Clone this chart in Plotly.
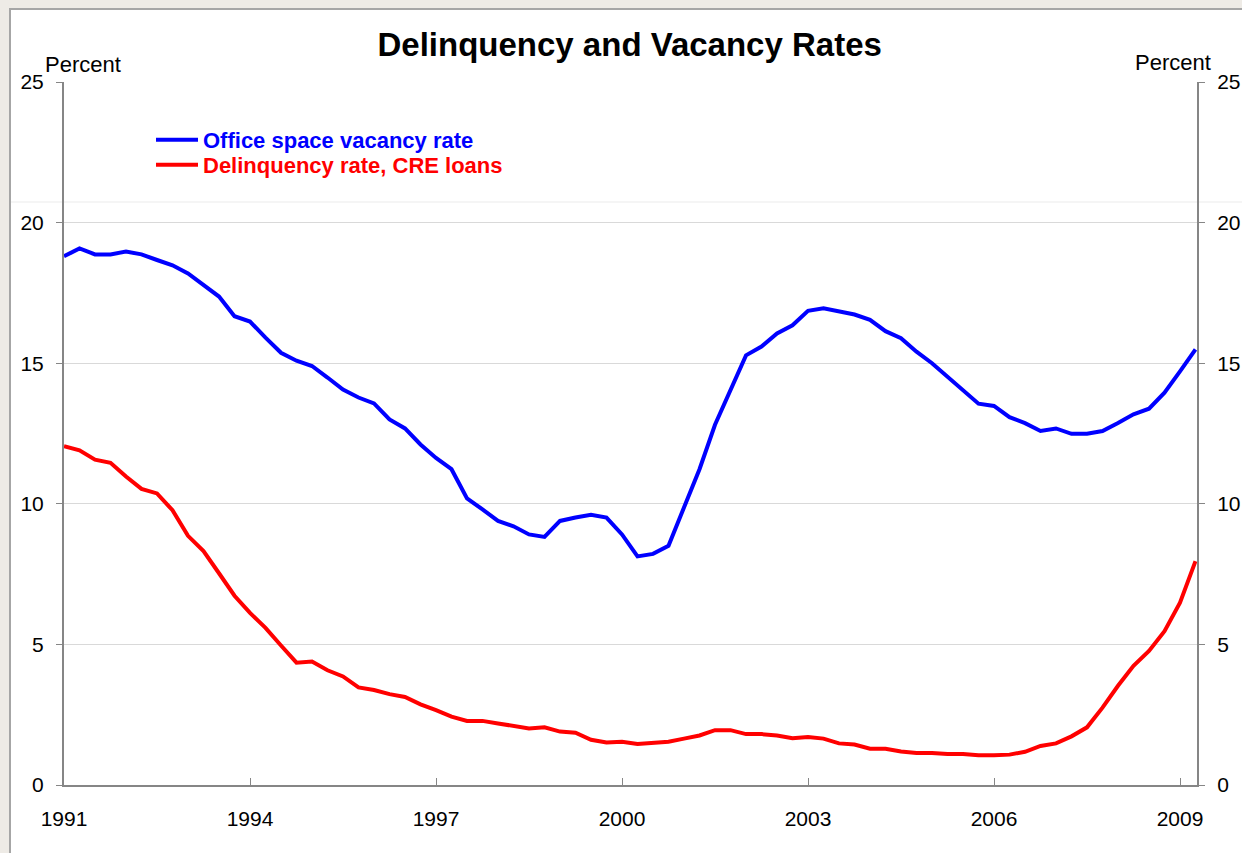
import plotly.graph_objects as go

start_year = 1991
n_quarters = 74  # 1991Q1 .. 2009Q2

office_vacancy = [
    18.80, 19.08, 18.87, 18.87, 18.97, 18.87, 18.67, 18.48, 18.19, 17.78, 17.37, 16.67,
    16.48, 15.91, 15.37, 15.09, 14.90, 14.49, 14.06, 13.78, 13.57, 13.00, 12.68, 12.11,
    11.63, 11.23, 10.19, 9.80, 9.39, 9.20, 8.91, 8.82, 9.39, 9.51, 9.61, 9.51,
    8.91, 8.13, 8.22, 8.51, 9.84, 11.23, 12.81, 14.08, 15.28, 15.59, 16.06, 16.35,
    16.86, 16.95, 16.85, 16.73, 16.54, 16.14, 15.89, 15.41, 15.00, 14.52, 14.05, 13.56,
    13.48, 13.08, 12.87, 12.59, 12.68, 12.49, 12.49, 12.59, 12.87, 13.18, 13.38, 13.95,
    14.71, 15.49,
]

cre_delinquency = [
    12.05, 11.90, 11.57, 11.46, 10.97, 10.53, 10.37, 9.77, 8.86, 8.32, 7.53, 6.73,
    6.12, 5.59, 4.96, 4.35, 4.39, 4.08, 3.86, 3.47, 3.38, 3.23, 3.13, 2.87,
    2.66, 2.43, 2.28, 2.28, 2.19, 2.11, 2.01, 2.05, 1.90, 1.86, 1.61, 1.51,
    1.54, 1.46, 1.51, 1.54, 1.65, 1.76, 1.95, 1.95, 1.81, 1.81, 1.76, 1.66,
    1.71, 1.65, 1.48, 1.44, 1.29, 1.29, 1.19, 1.14, 1.14, 1.10, 1.10, 1.06,
    1.06, 1.08, 1.18, 1.39, 1.48, 1.73, 2.05, 2.75, 3.53, 4.24, 4.77, 5.47,
    6.48, 7.96,
]

x_ticks = [1991, 1994, 1997, 2000, 2003, 2006, 2009]
y_ticks = [0, 5, 10, 15, 20, 25]

dates = [start_year + q / 4 for q in range(n_quarters)]

FONT = "Liberation Sans, Arial, sans-serif"
AXIS_GRAY = "#868686"
GRID = "#D9D9D9"

W, H = 1242, 853
L, R, T, B = 64, 45, 82, 68
pw, ph = W - L - R, H - T - B


def px_x(x):
    return (x - L) / pw


def px_y(y):
    return (H - B - y) / ph


fig = go.Figure()
fig.add_trace(go.Scatter(
    x=dates, y=office_vacancy, mode="lines", legend="legend",
    name="<span style='color:#0000FF'>Office space vacancy rate</span>",
    line=dict(color="#0000FF", width=4),
))
fig.add_trace(go.Scatter(
    x=dates, y=cre_delinquency, mode="lines", yaxis="y2", legend="legend2",
    name="<span style='color:#FF0000'>Delinquency rate, CRE loans</span>",
    line=dict(color="#FF0000", width=4),
))

legend_common = dict(
    xanchor="left", yanchor="middle", bgcolor="rgba(0,0,0,0)", itemwidth=42,
    font=dict(family=FONT, size=22, weight="bold"),
)

fig.update_layout(
    width=W, height=H,
    margin=dict(l=L, r=R, t=T, b=B, pad=0, autoexpand=False),
    paper_bgcolor="#EEEBE6",
    plot_bgcolor="white",
    font=dict(family=FONT, size=21, color="black"),
    showlegend=True,
    legend=dict(x=px_x(151), y=px_y(140), **legend_common),
    legend2=dict(x=px_x(151), y=px_y(165), **legend_common),
    title=dict(
        text="<b>Delinquency and Vacancy Rates</b>",
        x=0.507, xanchor="center", y=1 - 44 / H, yanchor="middle",
        font=dict(family=FONT, size=33, color="black"),
    ),
    xaxis=dict(
        range=[1991, 1991 + pw / 62.0], tickvals=x_ticks,
        ticktext=[str(v) for v in x_ticks], automargin=False,
        showgrid=False, zeroline=False,
        showline=True, linecolor=AXIS_GRAY, linewidth=2,
        ticks="inside", ticklen=7, tickcolor=AXIS_GRAY, tickwidth=1,
        ticklabelstandoff=14,
        tickfont=dict(size=21),
    ),
    yaxis=dict(
        range=[0, 25], tickvals=y_ticks, showgrid=True, gridcolor=GRID, gridwidth=1,
        automargin=False,
        zeroline=False, showline=True, linecolor=AXIS_GRAY, linewidth=2,
        ticks="outside", ticklen=6, tickcolor=AXIS_GRAY, tickwidth=1,
        ticklabelstandoff=8, tickfont=dict(size=21),
    ),
    yaxis2=dict(
        range=[0, 25], tickvals=y_ticks, overlaying="y", side="right",
        automargin=False,
        showgrid=False, zeroline=False, showline=True, linecolor=AXIS_GRAY, linewidth=2,
        ticks="outside", ticklen=6, tickcolor=AXIS_GRAY, tickwidth=1,
        ticklabelstandoff=8, tickfont=dict(size=21),
    ),
    shapes=[
        dict(type="rect", xref="paper", yref="paper",
             x0=px_x(10), x1=px_x(1260), y0=px_y(870), y1=px_y(9),
             fillcolor="white", line=dict(color="#A6A6A6", width=2), layer="below"),
        dict(type="line", xref="paper", yref="paper",
             x0=px_x(11), x1=px_x(1242), y0=px_y(202), y1=px_y(202),
             line=dict(color="#EBEBEB", width=1), layer="below"),
    ],
    annotations=[
        dict(text="Percent", xref="paper", yref="paper", x=px_x(43), y=px_y(64),
             xanchor="left", yanchor="middle", showarrow=False,
             font=dict(family=FONT, size=22, color="black")),
        dict(text="Percent", xref="paper", yref="paper", x=px_x(1213), y=px_y(62),
             xanchor="right", yanchor="middle", showarrow=False,
             font=dict(family=FONT, size=22, color="black")),
    ],
)

fig.write_html(
    "out.html",
    config={"displayModeBar": False},
    post_script="document.body.style.margin='0';document.body.style.overflow='hidden';",
)
